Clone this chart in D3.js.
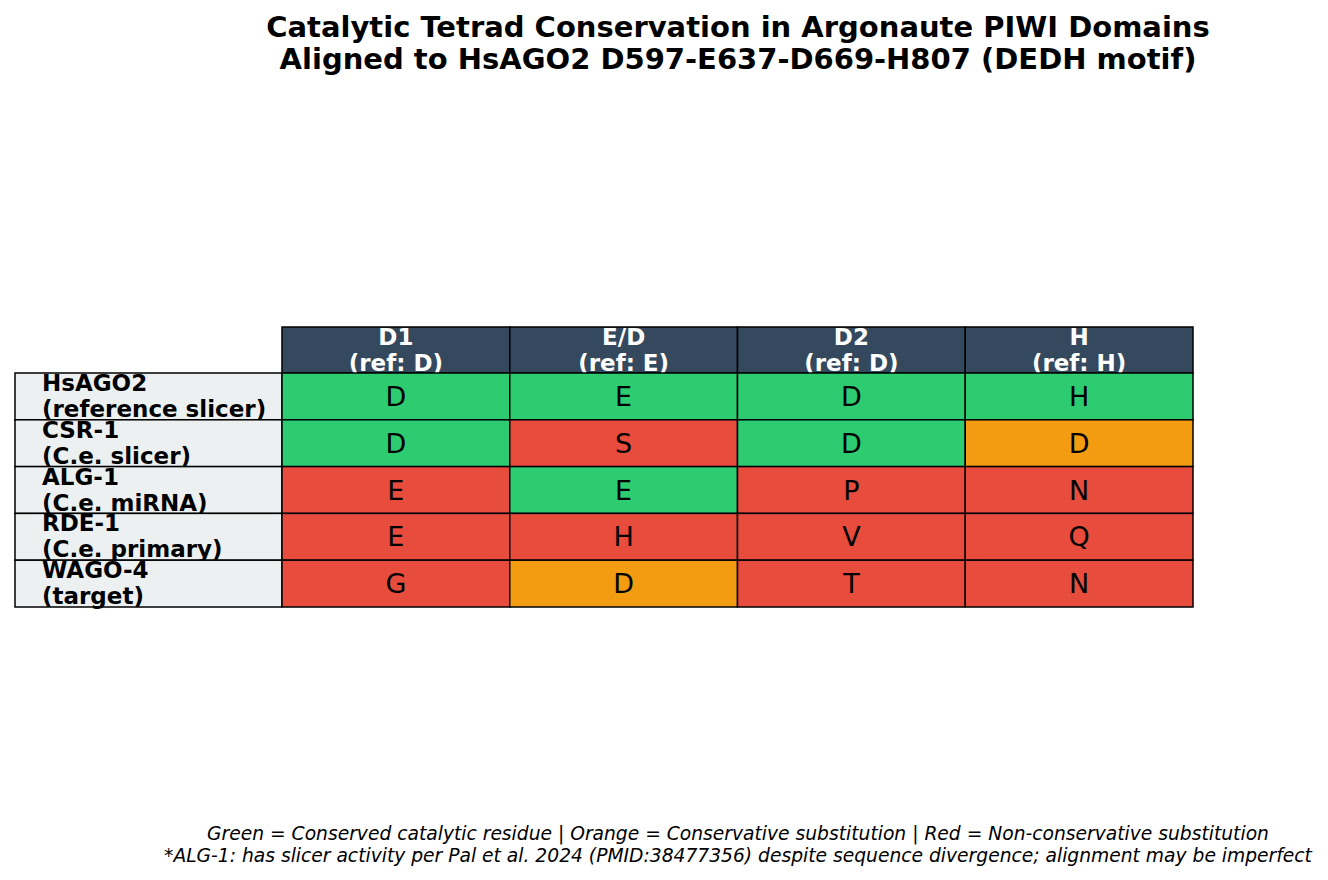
<!DOCTYPE html>
<html>
<head>
<meta charset="utf-8">
<script src="https://cdn.jsdelivr.net/npm/d3@7"></script>
<style>
  html, body { margin: 0; padding: 0; background: #fff; }
  svg { display: block; }
  text { font-family: "DejaVu Sans", sans-serif; }
</style>
</head>
<body>
<svg id="chart" width="1328" height="880"></svg>
<script>
// ---- data ----
const titleLines = [
  "Catalytic Tetrad Conservation in Argonaute PIWI Domains",
  "Aligned to HsAGO2 D597-E637-D669-H807 (DEDH motif)"
];
const columns = [["D1", "(ref: D)"], ["E/D", "(ref: E)"], ["D2", "(ref: D)"], ["H", "(ref: H)"]];
const rowLabels = [
  ["HsAGO2", "(reference slicer)"],
  ["CSR-1", "(C.e. slicer)"],
  ["ALG-1", "(C.e. miRNA)"],
  ["RDE-1", "(C.e. primary)"],
  ["WAGO-4", "(target)"]
];
const residues = [
  ["D", "E", "D", "H"],
  ["D", "S", "D", "D"],
  ["E", "E", "P", "N"],
  ["E", "H", "V", "Q"],
  ["G", "D", "T", "N"]
];
// C = conserved, S = conservative substitution, N = non-conservative
const status = [
  ["C", "C", "C", "C"],
  ["C", "N", "C", "S"],
  ["N", "C", "N", "N"],
  ["N", "N", "N", "N"],
  ["N", "S", "N", "N"]
];
const footnotes = [
  "Green = Conserved catalytic residue | Orange = Conservative substitution | Red = Non-conservative substitution",
  "*ALG-1: has slicer activity per Pal et al. 2024 (PMID:38477356) despite sequence divergence; alignment may be imperfect"
];

// ---- styles ----
const statusColor = d3.scaleOrdinal().domain(["C", "S", "N"]).range(["#2ecc71", "#f39c12", "#e74c3c"]);
const headerColor = "#34495e";
const labelColor = "#ecf0f1";

const svg = d3.select("#chart");

// layout
const tableLeft = 15, dataLeft = 282, dataRight = 1193;
const headerTop = 327, bodyTop = 373, bodyBottom = 607;

const x = d3.scaleBand().domain(d3.range(columns.length)).range([dataLeft, dataRight]);
const y = d3.scaleBand().domain(d3.range(rowLabels.length)).range([bodyTop, bodyBottom]);
const rowH = y.bandwidth();

// title
svg.append("g").selectAll("text").data(titleLines).join("text")
  .attr("x", 738).attr("y", (d, i) => 37 + i * 31.5)
  .attr("text-anchor", "middle")
  .attr("font-size", 29).attr("font-weight", "bold").attr("fill", "#000")
  .text(d => d);

const table = svg.append("g");
const edge = { stroke: "#000", "stroke-width": 1.5 };

function twoLine(g, lines, cx, cy, anchor, opts) {
  const t = g.append("text")
    .attr("text-anchor", anchor)
    .attr("font-size", opts.size)
    .attr("font-weight", "bold")
    .attr("fill", opts.fill);
  lines.forEach((ln, i) => {
    t.append("tspan").attr("x", cx).attr("y", cy - 5.5 + i * 26).text(ln);
  });
}

// header row
columns.forEach((c, j) => {
  const g = table.append("g");
  g.append("rect").attr("x", x(j)).attr("y", headerTop)
    .attr("width", x.bandwidth()).attr("height", bodyTop - headerTop)
    .attr("fill", headerColor).attr("stroke", edge.stroke).attr("stroke-width", edge["stroke-width"]);
  twoLine(g, c, x(j) + x.bandwidth() / 2, (headerTop + bodyTop) / 2, "middle", { size: 23, fill: "#fff" });
});

// body rows
rowLabels.forEach((lab, i) => {
  const g = table.append("g");
  g.append("rect").attr("x", tableLeft).attr("y", y(i))
    .attr("width", dataLeft - tableLeft).attr("height", rowH)
    .attr("fill", labelColor).attr("stroke", edge.stroke).attr("stroke-width", edge["stroke-width"]);
  twoLine(g, lab, tableLeft + 27, y(i) + rowH / 2, "start", { size: 23, fill: "#000" });
  residues[i].forEach((r, j) => {
    g.append("rect").attr("x", x(j)).attr("y", y(i))
      .attr("width", x.bandwidth()).attr("height", rowH)
      .attr("fill", statusColor(status[i][j])).attr("stroke", edge.stroke).attr("stroke-width", edge["stroke-width"]);
    g.append("text")
      .attr("x", x(j) + x.bandwidth() / 2).attr("y", y(i) + rowH / 2 + 9.5)
      .attr("text-anchor", "middle").attr("font-size", 27).attr("fill", "#000")
      .text(r);
  });
});

// footnotes
svg.append("g").selectAll("text").data(footnotes).join("text")
  .attr("x", 738).attr("y", (d, i) => 840 + i * 22)
  .attr("text-anchor", "middle")
  .attr("font-size", 18.7).attr("font-style", "italic").attr("fill", "#000")
  .text(d => d);
</script>
</body>
</html>
